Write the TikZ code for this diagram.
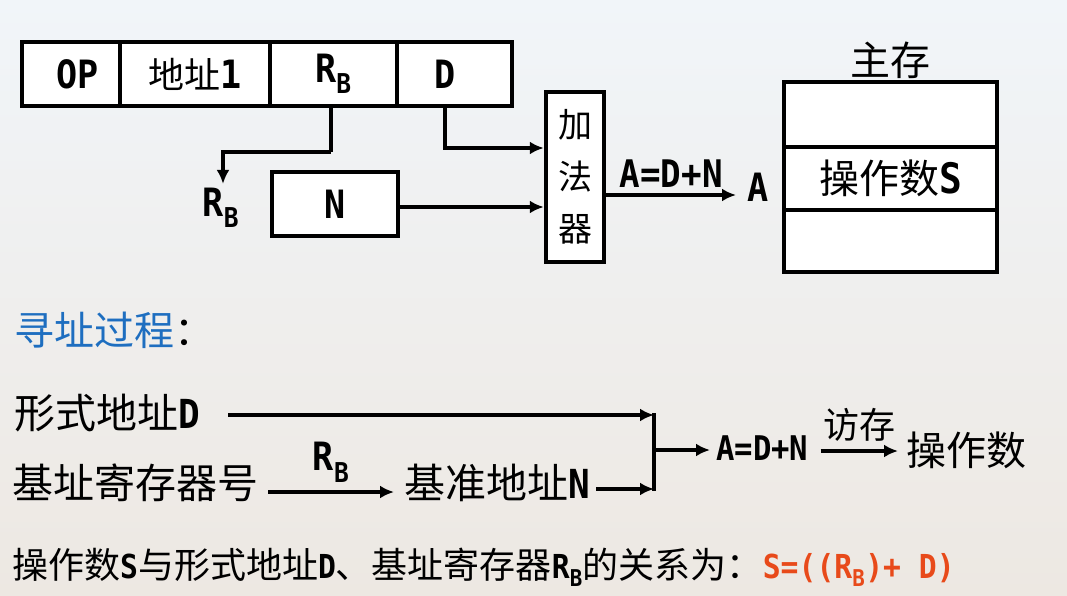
\documentclass[tikz,border=0pt]{standalone}
\usepackage{fontspec}
\setmainfont{Noto Sans CJK SC}
\newfontfamily\latfont[FakeStretch=0.9]{DejaVu Sans Mono}
\newcommand{\lx}[1]{{\latfont\bfseries #1}}
\newcommand{\fs}[1]{\fontsize{#1}{#1}\selectfont}
\usetikzlibrary{arrows.meta}
\definecolor{tblue}{HTML}{1E6EC0}
\definecolor{tred}{HTML}{E84A1A}
\definecolor{bgtop}{HTML}{F1F5F9}
\definecolor{bgbot}{HTML}{EDE8E2}
\begin{document}
\begin{tikzpicture}[x=1pt,y=-1pt,
  every node/.style={font=\fs{36}, inner sep=0pt},
  cell/.style={draw=black, line width=4.5pt, fill=white, minimum height=64pt},
  arr/.style={line width=4pt, -{Latex[length=14pt,width=13pt]}},
  ln/.style={line width=4pt}]
\useasboundingbox (0,0) rectangle (1067,596);
\shade[top color=bgtop, bottom color=bgbot] (0,0) rectangle (1067,596);
% instruction format
\node[cell, minimum width=98pt] (op) at (71,74) {\hspace*{14pt}\lx{\fs{39}OP}};
\node[cell, minimum width=150pt] (a1) at (195,74) {地址\lx{\fs{39}1}};
\node[cell, minimum width=127pt] (rbc) at (333.5,74) {\lx{\fs{39}R\textsubscript{B}}};
\node[cell, minimum width=115pt] (dc) at (454.5,74) {\hspace*{-18pt}\lx{\fs{39}D}};
% RB and N
\node (rbl) at (221,208) {\lx{\fs{39}R\textsubscript{B}}};
\node[cell, minimum width=126pt] (nb) at (335,204) {\lx{\fs{39}N}};
% adder
\node[draw=black, line width=4.5pt, fill=white, minimum width=58pt, minimum height=170pt,
      align=center, font=\fontsize{34}{52}\selectfont] (add) at (575,177) {加\\法\\器};
\coordinate (in1) at (add.west |- 0,148);
\coordinate (in2) at (add.west |- 0,207);
\draw[ln] ([xshift=-3pt]rbc.south) -- ++(0,44) coordinate (rbk);
\draw[arr] (rbk) -| ([xshift=2pt,yshift=4pt]rbl.north west -| rbl.north);
\draw[arr] ([xshift=-10pt]dc.south) |- (in1);
\draw[arr] (nb.east |- in2) -- (in2);
% output
\node (al) at (758,187) {\lx{\fs{39}A}};
\coordinate (aout) at (add.east |- 0,195);
\coordinate (aend) at (736,195);
\draw[arr] (aout) -- (aend) node[midway, above=6pt] {\lx{\fs{38}A=D+N}};
% main memory
\node[font=\fs{40}] (zc) at (890,60) {主存};
\node[cell, minimum width=213pt, minimum height=65pt] (m1) at (890.5,114.5) {};
\node[cell, minimum width=213pt, minimum height=63pt, font=\fs{40}] (m2) at (890.5,178.5) {操作数\lx{\fs{42}S}};
\node[cell, minimum width=213pt, minimum height=62pt] (m3) at (890.5,241) {};
% addressing process
\node[anchor=west, font=\fs{40}] (xz) at (14,330) {\textcolor{tblue}{寻址过程}：};
\node[anchor=west, font=\fs{41}] (fd) at (14,413) {形式地址\lx{\fs{40}D}};
\node[anchor=west, font=\fs{41}] (jz) at (12,483) {基址寄存器号};
\node[anchor=west, font=\fs{41}] (jn) at (404,483) {基准地址\lx{\fs{40}N}};
\coordinate (j1) at (654,415);
\coordinate (j2) at (654,489);
\coordinate (jm) at (654,450);
\draw[arr] ([xshift=28pt]fd.east |- j1) -- (j1);
\draw[arr] ([xshift=10pt]jz.east |- 0,492) -- ([xshift=-10pt]jn.west |- 0,492) node[midway, above=8pt] {\lx{\fs{39}R\textsubscript{B}}};
\draw[arr] ([xshift=6pt]jn.east |- j2) -- (j2);
\draw[ln] ([yshift=2pt]j1) -- ([yshift=-2pt]j2);
\node[anchor=west, font=\fs{34}] (adn) at (716,448) {\lx{A=D+N}};
\draw[arr] (jm) -- ([xshift=-6pt]adn.west |- jm);
\node[anchor=west, font=\fs{40}] (czs) at (906,450) {操作数};
\draw[arr] ([xshift=12pt]adn.east |- 0,451) -- ([xshift=-8pt]czs.west |- 0,451) node[midway, above=8pt] {访存};
% relation
\node[anchor=west, font=\fs{36}] (rel) at (12,567)
  {操作数\lx{\fs{33}S}与形式地址\lx{\fs{33}D}、基址寄存器\lx{\fs{33}R\textsubscript{B}}的关系为：\textcolor{tred}{\lx{\fs{33}S=((R\textsubscript{B})+ D)}}};
\end{tikzpicture}
\end{document}
